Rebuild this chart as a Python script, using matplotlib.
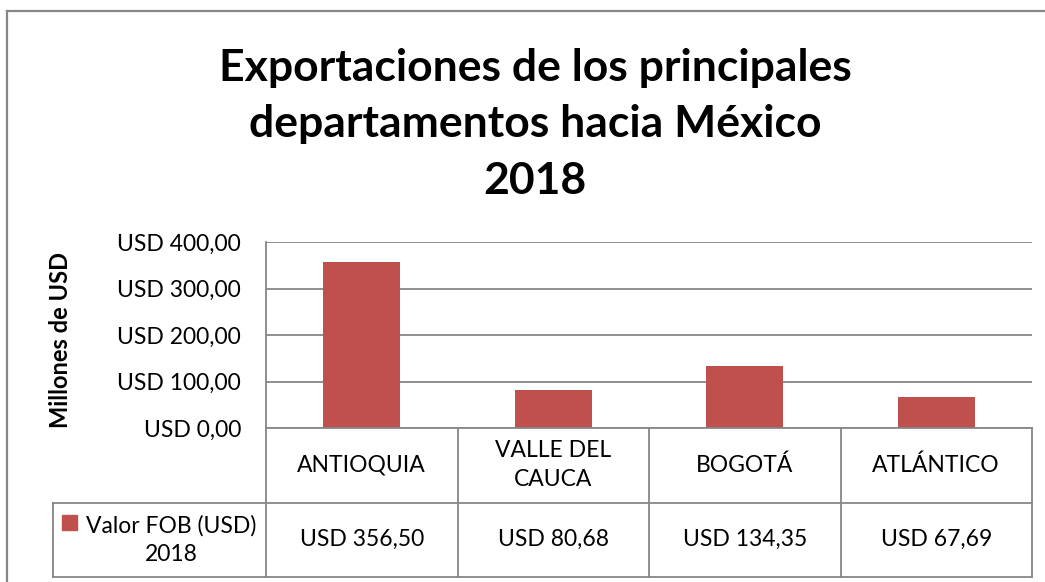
import matplotlib.pyplot as plt
from matplotlib.patches import Rectangle
from matplotlib.lines import Line2D
import numpy as np

plt.rcParams['font.family'] = ['Lato', 'DejaVu Sans']

departamentos = ['ANTIOQUIA', 'VALLE DEL\nCAUCA', 'BOGOTÁ', 'ATLÁNTICO']
valores = [356.50, 80.68, 134.35, 67.69]
serie = 'Valor FOB (USD)\n2018'
yticks = [0, 100, 200, 300, 400]

W, H = 1045, 582
color_bar = '#C0504D'
gris = '#878787'

fig = plt.figure(figsize=(W / 100, H / 100), dpi=100)

# marco exterior del grafico
fig.add_artist(Line2D([7 / W, 7 / W], [0, 1 - 11 / H], color=gris, lw=1.6))
fig.add_artist(Line2D([7 / W, 1], [1 - 11 / H, 1 - 11 / H], color=gris, lw=1.6))

fig.text(535 / W, 1 - 124 / H,
         'Exportaciones de los principales\ndepartamentos hacia México\n2018',
         ha='center', va='center', fontsize=32, fontweight='bold', linespacing=1.5)

# area de grafico
left, right, top, bottom = 266, 1032, 242, 428
ax = fig.add_axes([left / W, 1 - bottom / H, (right - left) / W, (bottom - top) / H])
x = np.arange(len(valores))
ax.bar(x, valores, width=0.4, color=color_bar, zorder=3)
ax.set_xlim(-0.5, len(valores) - 0.5)
ax.set_ylim(0, 400)
ax.set_yticks(yticks)
ax.set_yticklabels(['USD %s' % format(v, '.2f').replace('.', ',') for v in yticks], fontsize=16.5)
ax.set_xticks([])
ax.yaxis.grid(True, color=gris, lw=1.3, zorder=0)
ax.tick_params(axis='y', length=0, pad=18)
for s in ['top', 'right', 'bottom']:
    ax.spines[s].set_visible(False)
ax.spines['left'].set_color(gris)
ax.spines['left'].set_linewidth(1.3)
fig.text(60 / W, 1 - 340 / H, 'Millones de USD', rotation=90, ha='center', va='center',
         fontsize=17, fontweight='bold')

# tabla de datos
tb = fig.add_axes([left / W, 1 - 577 / H, (right - left) / W, (577 - bottom) / H])
tb.set_xlim(-0.5, len(valores) - 0.5)
tb.set_ylim(0, 2)
tb.axis('off')
px = (right - left) / len(valores)
leg_left = -0.5 - (left - 53) / px
n = len(valores)
kw = dict(color=gris, lw=1.3, clip_on=False)
tb.plot([-0.5, n - 0.5], [2, 2], **kw)
tb.plot([leg_left, n - 0.5], [1, 1], **kw)
tb.plot([leg_left, n - 0.5], [0, 0], **kw)
for i in range(n + 1):
    tb.plot([i - 0.5, i - 0.5], [0, 2], **kw)
tb.plot([leg_left, leg_left], [0, 1], **kw)
for i, (d, v) in enumerate(zip(departamentos, valores)):
    tb.text(i, 1.5, d, ha='center', va='center', fontsize=16.5, linespacing=1.45)
    tb.text(i, 0.5, 'USD ' + format(v, '.2f').replace('.', ','), ha='center', va='center',
            fontsize=16.5)
tb.add_patch(Rectangle((-0.5 - (left - 62) / px, 0.63), 15 / px, 0.2,
                       color=color_bar, clip_on=False))
tb.text(-0.5 - (left - 171) / px, 0.5, serie, ha='center', va='center', fontsize=16.5,
        linespacing=1.45)

fig.savefig('out.png', dpi=100)
